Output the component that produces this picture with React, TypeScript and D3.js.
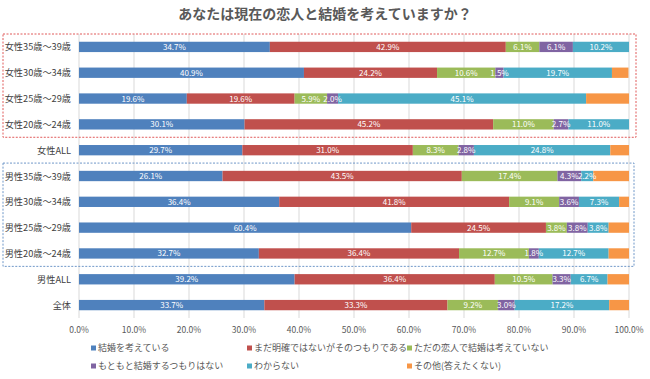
import React from "react";
import * as d3 from "d3";

const categories = [
  "女性35歳～39歳",
  "女性30歳～34歳",
  "女性25歳～29歳",
  "女性20歳～24歳",
  "女性ALL",
  "男性35歳～39歳",
  "男性30歳～34歳",
  "男性25歳～29歳",
  "男性20歳～24歳",
  "男性ALL",
  "全体",
];

const seriesNames = [
  "結婚を考えている",
  "まだ明確ではないがそのつもりである",
  "ただの恋人で結婚は考えていない",
  "もともと結婚するつもりはない",
  "わからない",
  "その他(答えたくない)",
];

const thinking = [34.7, 40.9, 19.6, 30.1, 29.7, 26.1, 36.4, 60.4, 32.7, 39.2, 33.7];
const notYet = [42.9, 24.2, 19.6, 45.2, 31.0, 43.5, 41.8, 24.5, 36.4, 36.4, 33.3];
const justLover = [6.1, 10.6, 5.9, 11.0, 8.3, 17.4, 9.1, 3.8, 12.7, 10.5, 9.2];
const neverMarry = [6.1, 1.5, 2.0, 2.7, 2.8, 4.3, 3.6, 3.8, 1.8, 3.3, 3.0];
const dontKnow = [10.2, 19.7, 45.1, 11.0, 24.8, 2.2, 7.3, 3.8, 12.7, 6.7, 17.2];
const other = [0.0, 3.0, 7.8, 0.0, 3.4, 6.5, 1.8, 3.7, 3.7, 3.9, 3.6];

const series = [thinking, notYet, justLover, neverMarry, dontKnow, other];
const showLabels = [true, true, true, true, true, false];
const colors = ["#4F81BD", "#C0504D", "#9BBB59", "#8064A2", "#4BACC6", "#F79646"];
const xTicks = [0, 10, 20, 30, 40, 50, 60, 70, 80, 90, 100];

const FONT = "'Noto Sans CJK JP', 'Noto Sans', sans-serif";

export default function App() {
  const W = 650;
  const H = 379;
  const x = d3.scaleLinear().domain([0, 100]).range([79, 629]);
  const y = d3
    .scaleBand<string>()
    .domain(categories)
    .range([34, 318])
    .paddingInner(0.6)
    .paddingOuter(0.3);
  const step = y.step();
  const bw = y.bandwidth();

  const rows = categories.map((c, i) => {
    let acc = 0;
    return series.map((s, k) => {
      const v = s[i];
      const seg = { k, x0: acc, x1: acc + v, v };
      acc += v;
      return seg;
    });
  });

  const center = (c: string) => (y(c) as number) + bw / 2;
  const redTop = center(categories[0]) - step / 2;
  const redBot = center(categories[3]) + step / 2;
  const blueTop = center(categories[5]) - step / 2;
  const blueBot = center(categories[8]) + step / 2;

  const legendCols = [91, 247, 407];
  const legendRows = [351, 369];

  return (
    <svg
      width={W}
      height={H}
      style={{ position: "absolute", left: 0, top: 0, background: "#fff" }}
      fontFamily={FONT}
    >
      <text x={325} y={19} textAnchor="middle" fontSize={14} fontWeight="bold" fill="#595959">
        あなたは現在の恋人と結婚を考えていますか？
      </text>

      {xTicks.map((t) => (
        <line key={t} x1={x(t)} x2={x(t)} y1={34} y2={318} stroke="#D9D9D9" strokeWidth={1} />
      ))}

      {categories.map((c, i) =>
        rows[i].map((seg) =>
          seg.v > 0 ? (
            <rect
              key={c + seg.k}
              x={x(seg.x0)}
              y={y(c)}
              width={x(seg.x1) - x(seg.x0)}
              height={bw}
              fill={colors[seg.k]}
            />
          ) : null
        )
      )}

      {categories.map((c, i) =>
        rows[i].map((seg) =>
          seg.v > 0 && showLabels[seg.k] ? (
            <text
              key={"l" + c + seg.k}
              x={(x(seg.x0) + x(seg.x1)) / 2}
              y={center(c) + 3}
              textAnchor="middle"
              fontSize={8}
              fill="#FFFFFF"
            >
              {seg.v.toFixed(1) + "%"}
            </text>
          ) : null
        )
      )}

      {categories.map((c) => (
        <text key={"y" + c} x={71} y={center(c) + 3.5} textAnchor="end" fontSize={9.2} fill="#404040">
          {c}
        </text>
      ))}

      {xTicks.map((t) => (
        <text key={"x" + t} x={x(t)} y={333} textAnchor="middle" fontSize={8.5} fill="#595959">
          {t.toFixed(1) + "%"}
        </text>
      ))}

      <rect
        x={3}
        y={redTop}
        width={633}
        height={redBot - redTop}
        fill="none"
        stroke="#E05A5A"
        strokeWidth={1}
        strokeDasharray="2,1.5"
      />
      <rect
        x={3}
        y={blueTop}
        width={631}
        height={blueBot - blueTop}
        fill="none"
        stroke="#6F97C8"
        strokeWidth={1}
        strokeDasharray="2,1.5"
      />

      {seriesNames.map((n, k) => {
        const lx = legendCols[k % 3];
        const ly = legendRows[Math.floor(k / 3)];
        return (
          <g key={"lg" + k}>
            <rect x={lx} y={ly - 5.5} width={5} height={5} fill={colors[k]} />
            <text x={lx + 7} y={ly} fontSize={9} fill="#595959">
              {n}
            </text>
          </g>
        );
      })}
    </svg>
  );
}
